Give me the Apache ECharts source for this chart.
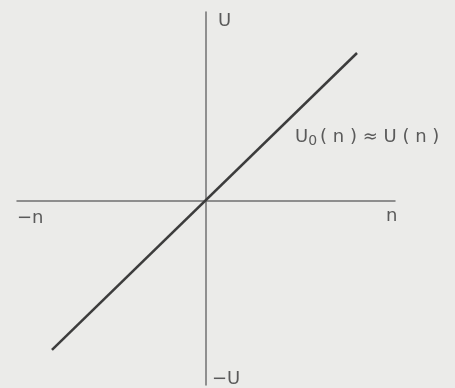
<!DOCTYPE html>
<html><head><meta charset="utf-8">
<script src="https://cdn.jsdelivr.net/npm/echarts@6/dist/echarts.min.js"></script>
<style>html,body{margin:0;padding:0;background:#ebebe9;}#c{width:455px;height:388px;}</style>
</head><body><div id="c"></div>
<script>
// data
const xRange = [-1, 1];
const yRange = [-0.974, 1];
const lineX = [-0.815, 0.799];
const lineY = [-0.788, 0.783];
const xLabels = ['−n', 'n'];
const yLabels = ['U', '−U'];
const curveLabel = 'U₀(n) ≈ U(n)';

const chart = echarts.init(document.getElementById('c'), null, {renderer: 'canvas'});
const font = '"DejaVu Sans", sans-serif';
const txtColor = '#5a5a5a';
chart.setOption({
  backgroundColor: '#ebebe9',
  animation: false,
  grid: {left: 17, right: 60, top: 12, bottom: 3},
  xAxis: {
    type: 'value', min: xRange[0], max: xRange[1],
    axisLine: {onZero: true, lineStyle: {color: '#707070', width: 1.5}},
    axisTick: {show: false}, axisLabel: {show: false}, splitLine: {show: false}
  },
  yAxis: {
    type: 'value', min: yRange[0], max: yRange[1],
    axisLine: {onZero: true, lineStyle: {color: '#707070', width: 1.5}},
    axisTick: {show: false}, axisLabel: {show: false}, splitLine: {show: false}
  },
  series: [{
    type: 'line',
    data: lineX.map((x, i) => [x, lineY[i]]),
    symbol: 'none',
    lineStyle: {color: '#3c3c3c', width: 2.5}
  }],
  graphic: [
    {type: 'text', left: 218, top: 12, style: {text: yLabels[0], font: '18px ' + font, fill: txtColor}},
    {type: 'text', left: 212, top: 370, style: {text: yLabels[1], font: '18px ' + font, fill: txtColor}},
    {type: 'text', left: 17, top: 209, style: {text: xLabels[0], font: '18px ' + font, fill: txtColor}},
    {type: 'text', left: 386, top: 207, style: {text: xLabels[1], font: '18px ' + font, fill: txtColor}},
    {type: 'text', left: 295, top: 128, style: {
      text: '{a|U}{s|0}{a|( n ) ≈ U ( n )}',
      rich: {
        a: {font: '18px ' + font, fill: txtColor, color: txtColor},
        s: {font: '14px ' + font, fill: txtColor, color: txtColor, padding: [9, 3, 0, 0]}
      }
    }}
  ]
});
</script></body></html>
